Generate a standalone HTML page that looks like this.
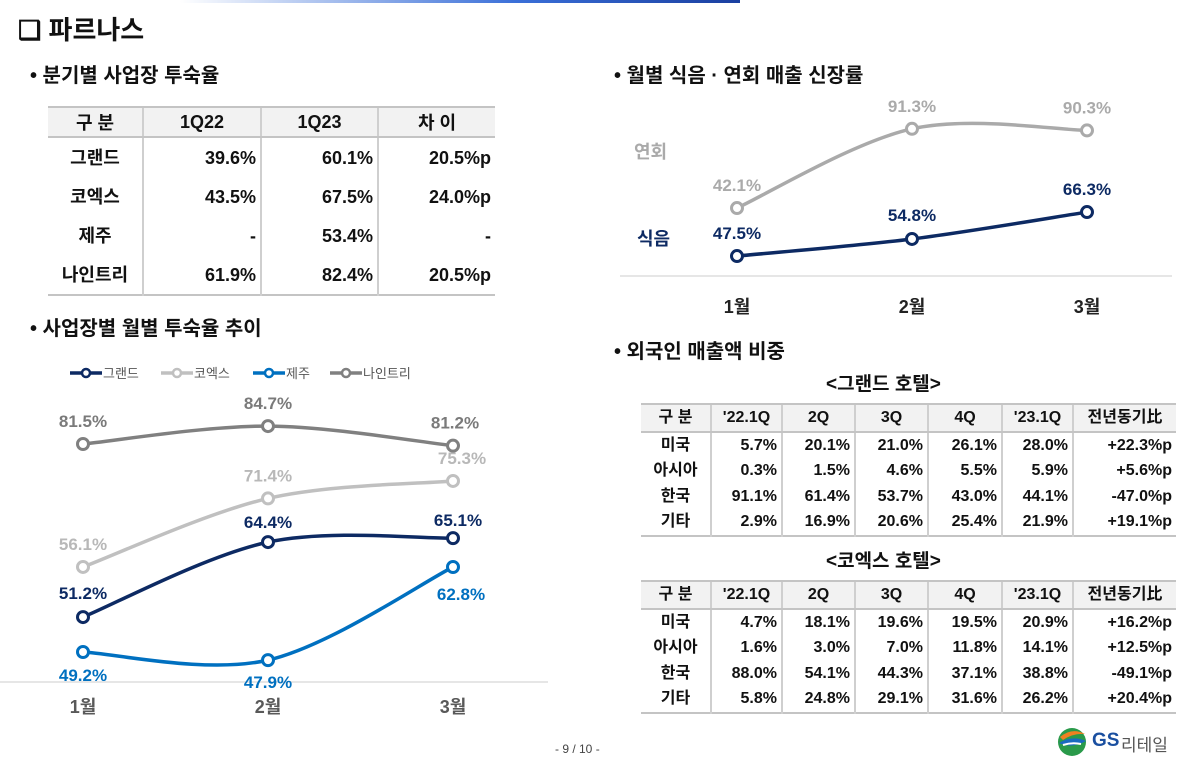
<!DOCTYPE html>
<html><head><meta charset="utf-8">
<style>
body{margin:0;width:1182px;height:762px;background:#fff;position:relative;overflow:hidden;font-family:"Liberation Sans","Noto Sans CJK KR",sans-serif;color:#111}
.a{position:absolute;white-space:nowrap}
table{border-collapse:collapse;position:absolute;font-weight:bold;table-layout:fixed}
.t1 td{height:39px;font-size:18px;padding:0 4px;line-height:1;vertical-align:middle}
.t1 th{height:28px;font-size:18px;background:#f2f2f2;font-weight:bold;border-top:2px solid #c4c4c4;border-bottom:2px solid #c4c4c4;padding:0}
.t1 td+td,.t1 th+th{border-left:2px solid #cfcfcf}
.t2 th{height:26px;font-size:16px;background:#f2f2f2;font-weight:bold;border-top:2px solid #c4c4c4;border-bottom:2px solid #c4c4c4;padding:0;line-height:1}
.t2 td{height:25.5px;font-size:16px;padding:0 4px;text-align:right;line-height:1;vertical-align:middle}
.t2 td:first-child{text-align:center}
.t2 td+td,.t2 th+th{border-left:2px solid #cfcfcf}
</style></head><body>
<div class="a" style="left:180px;top:0;width:560px;height:3px;background:linear-gradient(90deg,#fff,#3a6fd8 60%,#1a3fa0)"></div>
<div class="a" style="left:18px;top:10px;font-size:26px;font-weight:bold">❑ 파르나스</div>
<div class="a" style="left:30px;top:59px;font-size:20px;font-weight:bold">• 분기별 사업장 투숙율</div>
<table class="t1" style="left:48px;top:106px;width:447px">
<colgroup><col style="width:95px"><col style="width:118px"><col style="width:117px"><col></colgroup>
<tr><th>구 분</th><th>1Q22</th><th>1Q23</th><th>차 이</th></tr>
<tr><td style="text-align:center">그랜드</td><td align="right">39.6%</td><td align="right">60.1%</td><td align="right">20.5%p</td></tr>
<tr><td style="text-align:center">코엑스</td><td align="right">43.5%</td><td align="right">67.5%</td><td align="right">24.0%p</td></tr>
<tr><td style="text-align:center">제주</td><td align="right">-</td><td align="right">53.4%</td><td align="right">-</td></tr>
<tr style="border-bottom:2px solid #c4c4c4"><td style="text-align:center">나인트리</td><td align="right">61.9%</td><td align="right">82.4%</td><td align="right">20.5%p</td></tr>
</table>
<div class="a" style="left:30px;top:312px;font-size:20px;font-weight:bold">• 사업장별 월별 투숙율 추이</div>
<div class="a" style="left:614px;top:59px;font-size:20px;font-weight:bold">• 월별 식음 · 연회 매출 신장률</div>
<div class="a" style="left:614px;top:335px;font-size:20px;font-weight:bold">• 외국인 매출액 비중</div>

<svg class="a" id="chart" style="left:0;top:0" width="1182" height="762"></svg>

<div class="a" style="left:826px;top:369px;font-size:19px;font-weight:bold">&lt;그랜드 호텔&gt;</div>
<table class="t2" style="left:641px;top:403px;width:535px">
<colgroup><col style="width:70px"><col style="width:71px"><col style="width:73px"><col style="width:73px"><col style="width:74px"><col style="width:71px"><col></colgroup>
<tr><th>구 분</th><th>'22.1Q</th><th>2Q</th><th>3Q</th><th>4Q</th><th>'23.1Q</th><th>전년동기比</th></tr>
<tr><td>미국</td><td>5.7%</td><td>20.1%</td><td>21.0%</td><td>26.1%</td><td>28.0%</td><td>+22.3%p</td></tr>
<tr><td>아시아</td><td>0.3%</td><td>1.5%</td><td>4.6%</td><td>5.5%</td><td>5.9%</td><td>+5.6%p</td></tr>
<tr><td>한국</td><td>91.1%</td><td>61.4%</td><td>53.7%</td><td>43.0%</td><td>44.1%</td><td>-47.0%p</td></tr>
<tr style="border-bottom:2px solid #c4c4c4"><td>기타</td><td>2.9%</td><td>16.9%</td><td>20.6%</td><td>25.4%</td><td>21.9%</td><td>+19.1%p</td></tr>
</table>
<div class="a" style="left:826px;top:546px;font-size:19px;font-weight:bold">&lt;코엑스 호텔&gt;</div>
<table class="t2" style="left:641px;top:580px;width:535px">
<colgroup><col style="width:70px"><col style="width:71px"><col style="width:73px"><col style="width:73px"><col style="width:74px"><col style="width:71px"><col></colgroup>
<tr><th>구 분</th><th>'22.1Q</th><th>2Q</th><th>3Q</th><th>4Q</th><th>'23.1Q</th><th>전년동기比</th></tr>
<tr><td>미국</td><td>4.7%</td><td>18.1%</td><td>19.6%</td><td>19.5%</td><td>20.9%</td><td>+16.2%p</td></tr>
<tr><td>아시아</td><td>1.6%</td><td>3.0%</td><td>7.0%</td><td>11.8%</td><td>14.1%</td><td>+12.5%p</td></tr>
<tr><td>한국</td><td>88.0%</td><td>54.1%</td><td>44.3%</td><td>37.1%</td><td>38.8%</td><td>-49.1%p</td></tr>
<tr style="border-bottom:2px solid #c4c4c4"><td>기타</td><td>5.8%</td><td>24.8%</td><td>29.1%</td><td>31.6%</td><td>26.2%</td><td>+20.4%p</td></tr>
</table>
<div class="a" style="left:555px;top:742px;font-size:12px;color:#444">- 9 / 10 -</div>
<div class="a" style="left:1055px;top:725px;width:120px;height:32px">
<svg width="34" height="32" style="position:absolute;left:0;top:0"><circle cx="17" cy="17" r="14" fill="#2a9a4a"/><path d="M5 12 Q17 2 30 9 Q18 8 8 15Z" fill="#f08020"/><path d="M4 18 Q17 10 31 16 Q17 24 4 18Z" fill="#1a6ac0"/><path d="M8 20 Q17 17 26 19" stroke="#fff" stroke-width="2" fill="none"/></svg>
<span style="position:absolute;left:37px;top:5px;font-size:19px;font-weight:bold;color:#1a4fa0">GS</span>
<span style="position:absolute;left:66px;top:6px;font-size:17px;color:#555">리테일</span>
</div>

<script>
const months = ["1월","2월","3월"];
const grandVals = [51.2, 64.4, 65.1];
const coexVals = [56.1, 71.4, 75.3];
const jejuVals = [49.2, 47.9, 62.8];
const nineVals = [81.5, 84.7, 81.2];
const fnbVals = [47.5, 54.8, 66.3];
const banquetVals = [42.1, 91.3, 90.3];
const legendNames = ["그랜드","코엑스","제주","나인트리"];

const svg = document.getElementById('chart');
const NS = "http://www.w3.org/2000/svg";
function mk(tag, attrs, parent){const e=document.createElementNS(NS,tag);for(const k in attrs)e.setAttribute(k,attrs[k]);(parent||svg).appendChild(e);return e;}
const xLeft = i => 83 + i*185;
const xRight = i => 737 + i*175;
function yAxis(a,b){return v => a - b*v;}
function smoothPath(pts){
  let d="M"+pts[0][0]+","+pts[0][1];
  for(let i=0;i<pts.length-1;i++){
    const p0=pts[Math.max(0,i-1)],p1=pts[i],p2=pts[i+1],p3=pts[Math.min(pts.length-1,i+2)];
    const c1=[p1[0]+(p2[0]-p0[0])/6,p1[1]+(p2[1]-p0[1])/6];
    const c2=[p2[0]-(p3[0]-p1[0])/6,p2[1]-(p3[1]-p1[1])/6];
    d+=" C"+c1+" "+c2+" "+p2;
  }
  return d;
}
function series(name, vals, xf, yf, color, labelColor, dy, dx){
  const g=mk('g',{});
  
  
  const pts=vals.map((v,i)=>[xf(i),yf(v)]);
  const p=mk('path',{d:smoothPath(pts),fill:'none',stroke:color,'stroke-width':3.5},g);
  
  
  pts.forEach((pt,i)=>{
    const c=mk('circle',{cx:pt[0],cy:pt[1],r:5.5,fill:'#fff',stroke:color,'stroke-width':3},g);
    
    
    const t=mk('text',{x:pt[0]+(dx[i]||0),y:pt[1]+dy[i],'text-anchor':'middle','font-size':17,'font-weight':'bold',fill:labelColor,'font-family':'Liberation Sans, Noto Sans CJK KR, sans-serif'},g);
    t.textContent=vals[i].toFixed(1)+"%";
    
    
  });
}
const bl=mk('line',{x1:0,y1:682,x2:548,y2:682,stroke:'#ddd','stroke-width':1.5});


months.forEach((m,i)=>{const t=mk('text',{x:xLeft(i),y:713,'text-anchor':'middle','font-size':18,'font-weight':'bold',fill:'#595959'});t.textContent=m;

});
series('nine', nineVals, xLeft, yAxis(900.4,5.6), '#808080', '#7a7a7a', [-17,-17,-17], [0,0,2]);
series('coex', coexVals, xLeft, yAxis(818.3,4.48), '#c0c0c0', '#b8b8b8', [-17,-17,-17], [0,0,9]);
series('grand', grandVals, xLeft, yAxis(907.9,5.68), '#0d2a63', '#0d2a63', [-18,-14,-12], [0,0,5]);
series('jeju', jejuVals, xLeft, yAxis(959.5,6.25), '#0070c0', '#0070c0', [29,28,33], [0,0,8]);
const colors=['#0d2a63','#c0c0c0','#0070c0','#808080'];
const lx=[70,161,253,330];
legendNames.forEach((n,i)=>{
  const g=mk('g',{});
  
  
  mk('line',{x1:lx[i],y1:373,x2:lx[i]+32,y2:373,stroke:colors[i],'stroke-width':3.5},g);
  mk('circle',{cx:lx[i]+16,cy:373,r:4,fill:'#fff',stroke:colors[i],'stroke-width':2.5},g);
  const t=mk('text',{x:lx[i]+33,y:378,'font-size':13,fill:'#555'},g);t.textContent=n;
});
const br=mk('line',{x1:620,y1:276,x2:1172,y2:276,stroke:'#ddd','stroke-width':1.5});


months.forEach((m,i)=>{const t=mk('text',{x:xRight(i),y:313,'text-anchor':'middle','font-size':18,'font-weight':'bold',fill:'#222'});t.textContent=m;

});
series('banquet', banquetVals, xRight, yAxis(275.8,1.61), '#aaaaaa', '#aaaaaa', [-17,-17,-17], [0,0,0]);
series('fnb', fnbVals, xRight, yAxis(367.2,2.34), '#0d2a63', '#0d2a63', [-17,-18,-17], [0,0,0]);
const n1=mk('text',{x:634,y:158,'font-size':18,'font-weight':'bold',fill:'#aaa'});n1.textContent="연회";


const n2=mk('text',{x:637,y:245,'font-size':18,'font-weight':'bold',fill:'#0d2a63'});n2.textContent="식음";


</script>
</body></html>
